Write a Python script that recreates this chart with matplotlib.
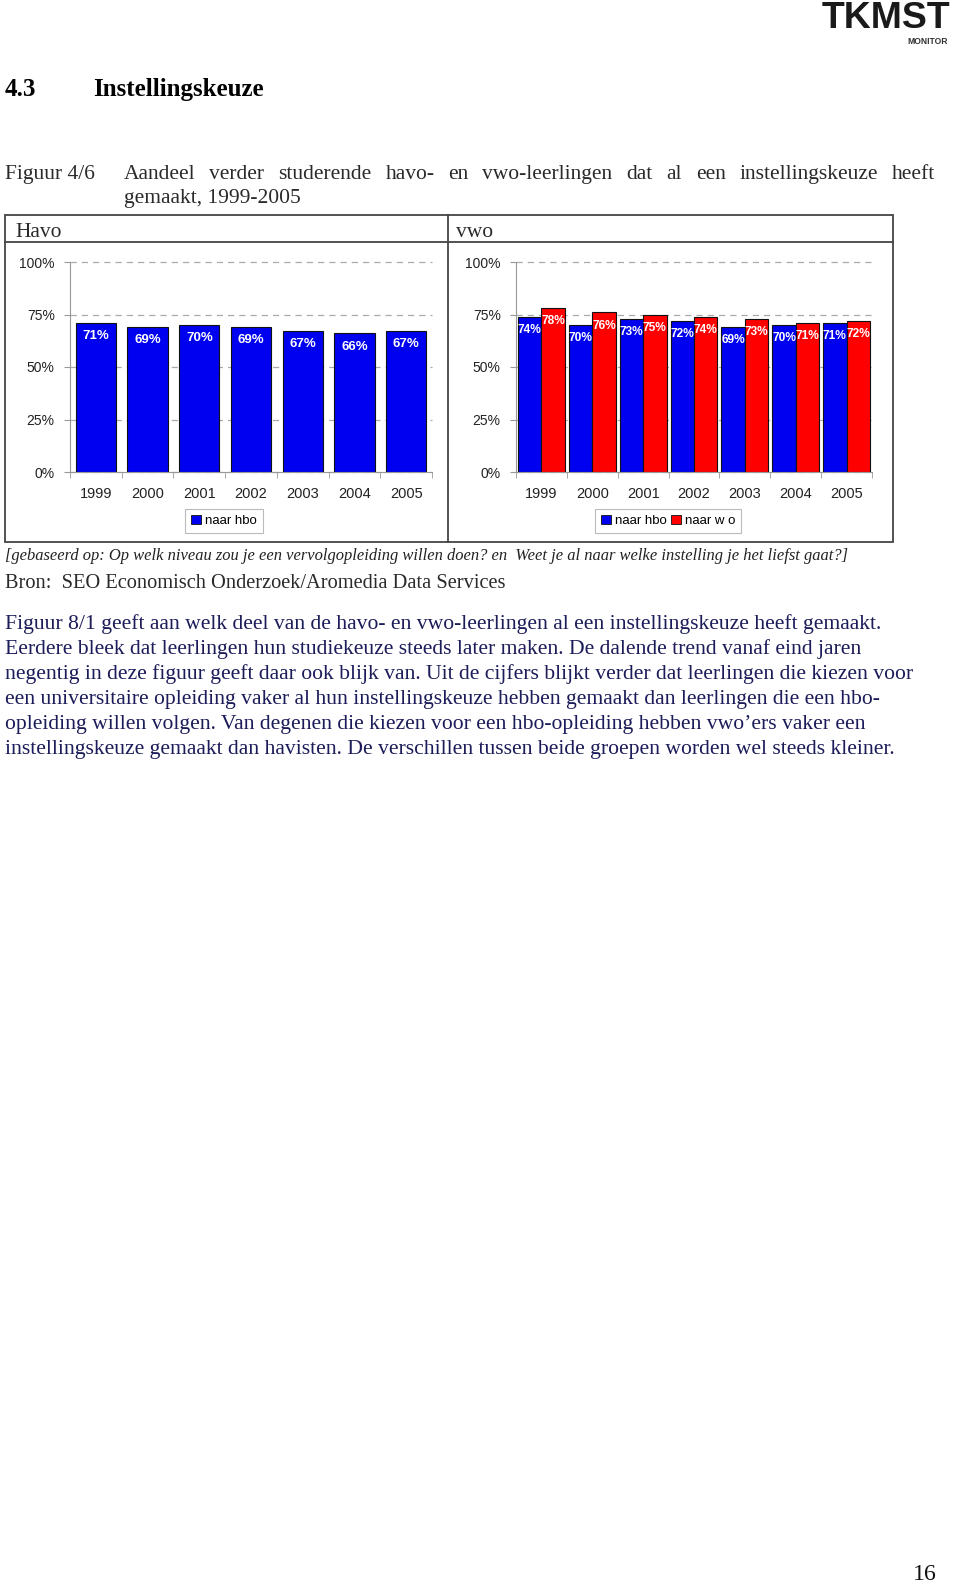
import numpy as np
import matplotlib
matplotlib.use("Agg")
import matplotlib.pyplot as plt
from matplotlib.patches import Rectangle, Patch
from matplotlib.lines import Line2D

years = ["1999", "2000", "2001", "2002", "2003", "2004", "2005"]
havo_hbo = [71, 69, 70, 69, 67, 66, 67]
vwo_hbo = [74, 70, 73, 72, 69, 70, 71]
vwo_wo = [78, 76, 75, 74, 73, 71, 72]
y_ticks = [0, 25, 50, 75, 100]
y_labels = ["0%", "25%", "50%", "75%", "100%"]

heading_nr = "4.3"
heading = "Instellingskeuze"
fig_nr = "Figuur 4/6"
caption_1 = "Aandeel verder studerende havo- en vwo-leerlingen dat al een instellingskeuze heeft"
caption_2 = "gemaakt, 1999-2005"
note = ("[gebaseerd op: Op welk niveau zou je een vervolgopleiding willen doen? en  "
        "Weet je al naar welke instelling je het liefst gaat?]")
source = "Bron:  SEO Economisch Onderzoek/Aromedia Data Services"
body = [
    "Figuur 8/1 geeft aan welk deel van de havo- en vwo-leerlingen al een instellingskeuze heeft gemaakt.",
    "Eerdere bleek dat leerlingen hun studiekeuze steeds later maken. De dalende trend vanaf eind jaren",
    "negentig in deze figuur geeft daar ook blijk van. Uit de cijfers blijkt verder dat leerlingen die kiezen voor",
    "een universitaire opleiding vaker al hun instellingskeuze hebben gemaakt dan leerlingen die een hbo-",
    "opleiding willen volgen. Van degenen die kiezen voor een hbo-opleiding hebben vwo\u2019ers vaker een",
    "instellingskeuze gemaakt dan havisten. De verschillen tussen beide groepen worden wel steeds kleiner.",
]

W, H = 960, 1583
BLUE = "#0000f0"
RED = "#ff0000"
SERIF = ["Liberation Serif", "DejaVu Serif"]
SANS = ["Liberation Sans", "DejaVu Sans"]

fig = plt.figure(figsize=(W / 100, H / 100), dpi=100)
renderer = fig.canvas.get_renderer()


def fx(x):
    return x / W


def fy(y):
    return 1 - y / H


def text_width(s, size, **kw):
    t = fig.text(0, 0, s, fontsize=size, **kw)
    w = t.get_window_extent(renderer).width
    t.remove()
    return w


def fit(s, width_px, **kw):
    return 12 * width_px / text_width(s, 12, **kw)


# heading
hs = fit(heading, 170, family=SERIF, weight="bold")
fig.text(fx(5), fy(96), heading_nr, fontsize=hs, family=SERIF, weight="bold", va="baseline")
fig.text(fx(93), fy(96), heading, fontsize=hs, family=SERIF, weight="bold", va="baseline")

# caption, first line justified
cs = fit(caption_2, 176, family=SERIF)
cap_col = "#2a2a2a"
fig.text(fx(5), fy(179), fig_nr, fontsize=cs, family=SERIF, color=cap_col, va="baseline")
words = caption_1.split()
widths = [text_width(w, cs, family=SERIF) for w in words]
gap = (935 - 124 - sum(widths)) / (len(words) - 1)
x = 124
for w, wd in zip(words, widths):
    fig.text(fx(x), fy(179), w, fontsize=cs, family=SERIF, color=cap_col, va="baseline")
    x += wd + gap
fig.text(fx(124), fy(203), caption_2, fontsize=cs, family=SERIF, color=cap_col, va="baseline")

# frame around the two panels
lc = "#444444"
fig.add_artist(Rectangle((fx(5), fy(542)), fx(888), 327 / H, transform=fig.transFigure,
                         fill=False, edgecolor=lc, linewidth=1.3))
fig.add_artist(Line2D([fx(5), fx(893)], [fy(242), fy(242)], transform=fig.transFigure,
                      color=lc, linewidth=1.3))
fig.add_artist(Line2D([fx(448), fx(448)], [fy(215), fy(542)], transform=fig.transFigure,
                      color=lc, linewidth=1.3))
fig.text(fx(15), fy(237), "Havo", fontsize=cs, family=SERIF, color=cap_col, va="baseline")
fig.text(fx(456), fy(237), "vwo", fontsize=cs, family=SERIF, color=cap_col, va="baseline")


def style_axes(ax):
    ax.set_xlim(-0.5, len(years) - 0.5)
    ax.set_ylim(0, 100)
    ax.set_yticks(y_ticks)
    ax.set_yticklabels(y_labels, family=SANS, fontsize=10, color="#222222")
    ax.set_xticks(np.arange(len(years)))
    ax.set_xticklabels(years, family=SANS, fontsize=10.5, color="#222222")
    ax.set_xticks(np.arange(len(years) + 1) - 0.5, minor=True)
    ax.tick_params(axis="x", which="major", length=0, pad=11)
    ax.tick_params(axis="x", which="minor", length=4, color="#999999", direction="out")
    ax.tick_params(axis="y", length=4, color="#999999", pad=7)
    for s in ["top", "right"]:
        ax.spines[s].set_visible(False)
    for s in ["left", "bottom"]:
        ax.spines[s].set_color("#999999")
        ax.spines[s].set_linewidth(0.8)
    ax.yaxis.grid(True, color="#aaaaaa", linestyle=(0, (5, 4)), linewidth=0.9)
    ax.set_axisbelow(True)
    for t in ax.get_ygridlines():
        t.set_clip_on(False)


def label_bars(ax, bars, vals, size):
    for b, v in zip(bars, vals):
        ax.annotate(f"{v}%", (b.get_x() + b.get_width() / 2, b.get_height()),
                    xytext=(0, -9.5), textcoords="offset points", ha="center", va="center",
                    color="white", fontsize=size, weight="bold", family=SANS, clip_on=False)


x = np.arange(len(years))

# Havo panel
ax1 = fig.add_axes([fx(70), fy(472), 362 / W, 210 / H])
style_axes(ax1)
b1 = ax1.bar(x, havo_hbo, width=0.78, color=BLUE, edgecolor="#111111", linewidth=0.8)
label_bars(ax1, b1, havo_hbo, 9.5)

# vwo panel
ax2 = fig.add_axes([fx(516), fy(472), 356 / W, 210 / H])
style_axes(ax2)
bw = 0.46
b2 = ax2.bar(x - bw / 2, vwo_hbo, width=bw, color=BLUE, edgecolor="#111111", linewidth=0.8)
b3 = ax2.bar(x + bw / 2, vwo_wo, width=bw, color=RED, edgecolor="#111111", linewidth=0.8)
label_bars(ax2, b2, vwo_hbo, 8.6)
label_bars(ax2, b3, vwo_wo, 8.6)

leg_kw = dict(loc="center", frameon=True, fancybox=False, shadow=False,
              handlelength=0.75, handleheight=0.75, handletextpad=0.3, borderpad=0.45,
              columnspacing=0.3, borderaxespad=0, prop={"family": SANS, "size": 9.5})
h_hbo = Patch(facecolor=BLUE, edgecolor="#111111", linewidth=0.6)
h_wo = Patch(facecolor=RED, edgecolor="#111111", linewidth=0.6)
l1 = fig.legend([h_hbo], ["naar hbo"], bbox_to_anchor=(fx(224), fy(521)), ncol=1, **leg_kw)
l2 = fig.legend([h_hbo, h_wo], ["naar hbo", "naar w o"], bbox_to_anchor=(fx(668), fy(521)),
                ncol=2, **leg_kw)
for lg in (l1, l2):
    lg.get_frame().set_edgecolor("#aaaaaa")
    lg.get_frame().set_linewidth(0.8)

# note and source
ns = fit(note, 841, family=SERIF, style="italic")
fig.text(fx(5), fy(560), note, fontsize=ns, family=SERIF, style="italic", color="#222222",
         va="baseline")
ss = fit(source, 498, family=SERIF)
fig.text(fx(5), fy(588), source, fontsize=ss, family=SERIF, color="#2a2a2a", va="baseline")

# body paragraph
bs = fit(body[0], 875, family=SERIF)
for i, line in enumerate(body):
    fig.text(fx(5), fy(629 + 25 * i), line, fontsize=bs, family=SERIF, color="#1c1c5a",
             va="baseline")

# logo and page number
ls = fit("TKMST", 128, family=SANS, weight="heavy")
fig.text(fx(822), fy(28), "TKMST", fontsize=ls, family=SANS, weight="heavy", color="#1a1a1a",
         va="baseline")
ms = fit("MONITOR", 40, family=SANS, weight="bold")
fig.text(fx(907), fy(44), "MONITOR", fontsize=ms, family=SANS, weight="bold", color="#333333",
         va="baseline")
ps = fit("16", 24, family=SERIF)
fig.text(fx(913), fy(1580), "16", fontsize=ps, family=SERIF, color="#111111", va="baseline")

fig.savefig("out.png", dpi=100)
